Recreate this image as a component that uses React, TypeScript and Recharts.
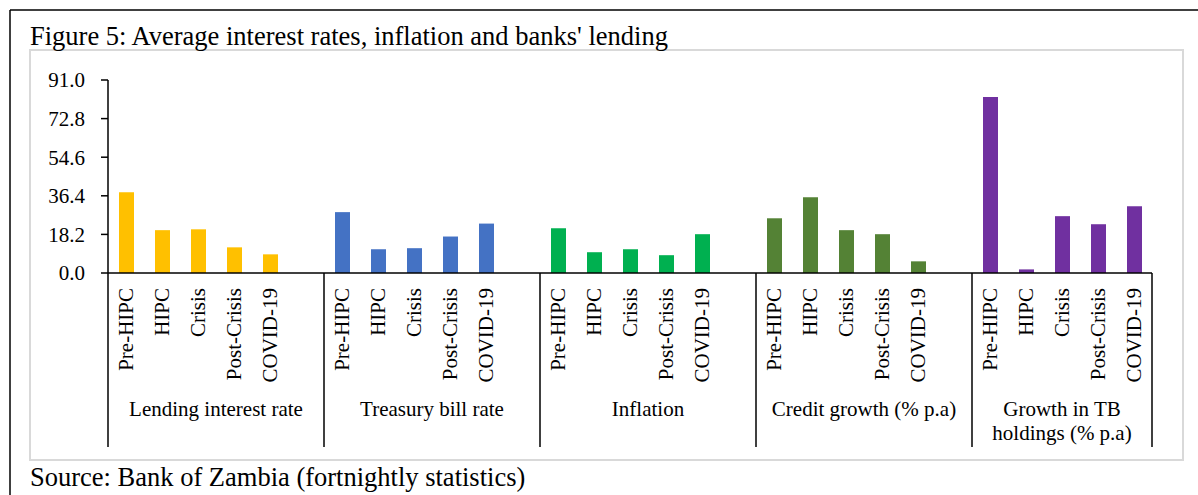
import { BarChart, Bar, XAxis, YAxis, Cell } from "recharts";

const PERIODS = ["Pre-HIPC", "HIPC", "Crisis", "Post-Crisis", "COVID-19"];
const GROUPS = [
  "Lending interest rate",
  "Treasury bill rate",
  "Inflation",
  "Credit growth (% p.a)",
  "Growth in TB holdings (% p.a)",
];
const LENDING_RATE = [38.1, 20.2, 20.6, 12.1, 8.8];
const TB_RATE = [28.7, 11.2, 11.7, 17.2, 23.3];
const INFLATION = [21.1, 9.8, 11.2, 8.4, 18.3];
const CREDIT_GROWTH = [25.8, 35.7, 20.2, 18.3, 5.5];
const TB_HOLDINGS = [83.0, 1.7, 26.8, 23.0, 31.5];
const Y_TICKS = [0, 18.2, 36.4, 54.6, 72.8, 91.0];

const SERIES = [LENDING_RATE, TB_RATE, INFLATION, CREDIT_GROWTH, TB_HOLDINGS];
const GROUP_COLORS = ["#FFC000", "#4472C4", "#00B050", "#548235", "#7030A0"];

const FONT = "'Liberation Serif', 'Times New Roman', serif";

interface Row {
  key: string;
  period: string;
  group: number;
  pos: number;
  value: number | null;
}

// each group gets an empty slot after it, except the last one (as in Excel)
const rows: Row[] = [];
SERIES.forEach((vals, g) => {
  PERIODS.forEach((p, i) => {
    rows.push({ key: `${g}-${p}`, period: p, group: g, pos: i, value: vals[i] });
  });
  if (g < SERIES.length - 1) {
    rows.push({ key: `${g}-gap`, period: "", group: g, pos: PERIODS.length, value: null });
  }
});
const byKey = new Map(rows.map((r) => [r.key, r]));

const W = 1198;
const H = 495;
const MARGIN = { top: 80, right: 46, bottom: 42, left: 30 };
const Y_AXIS_W = 78;
const X_AXIS_H = 180;
const PLOT_W = W - MARGIN.left - MARGIN.right - Y_AXIS_W;
const SLOT = PLOT_W / rows.length;

function slotsInGroup(g: number) {
  return rows.filter((r) => r.group === g).length;
}

let ctx: CanvasRenderingContext2D | null = null;
function wrap(text: string, maxW: number, font: string) {
  if (!ctx) ctx = document.createElement("canvas").getContext("2d");
  if (!ctx) return [text];
  ctx.font = font;
  const lines: string[] = [];
  let cur = "";
  for (const word of text.split(" ")) {
    const next = cur ? cur + " " + word : word;
    if (cur && ctx.measureText(next).width > maxW) {
      lines.push(cur);
      cur = word;
    } else {
      cur = next;
    }
  }
  if (cur) lines.push(cur);
  return lines;
}

function CategoryTick(props: any) {
  const { x, y, payload } = props;
  const row = byKey.get(payload.value);
  if (!row) return null;
  const isLast = row.key === rows[rows.length - 1].key;
  const span = slotsInGroup(row.group);
  const left = x - SLOT / 2;
  const lines = row.pos === 0 ? wrap(GROUPS[row.group], span * SLOT - 16, "21px 'Liberation Serif'") : [];
  return (
    <g>
      {row.period && (
        <text
          transform={`translate(${x},${y + 15}) rotate(-90)`}
          textAnchor="end"
          dominantBaseline="central"
          fontSize={21}
          fontFamily={FONT}
          fill="#000"
        >
          {row.period}
        </text>
      )}
      {row.pos === 0 && (
        <>
          <line x1={left} x2={left} y1={y} y2={y + 174} stroke="#000" strokeWidth={1.5} />
          <text textAnchor="middle" fontSize={21} fontFamily={FONT} fill="#000">
            {lines.map((ln, i) => (
              <tspan key={i} x={left + (span * SLOT) / 2} y={y + 143 + i * 24}>
                {ln}
              </tspan>
            ))}
          </text>
        </>
      )}
      {isLast && (
        <line x1={x + SLOT / 2} x2={x + SLOT / 2} y1={y} y2={y + 174} stroke="#000" strokeWidth={1.5} />
      )}
    </g>
  );
}

export default function App() {
  return (
    <div style={{ position: "absolute", left: 0, top: 0, width: W, height: H, background: "#fff" }}>
      <svg width={W} height={H} style={{ position: "absolute", left: 0, top: 0 }}>
        <line x1={10} x2={W} y1={10} y2={10} stroke="#000" strokeWidth={1.5} />
        <line x1={10} x2={10} y1={10} y2={H} stroke="#000" strokeWidth={1.5} />
        <rect x={30} y={50} width={1153} height={410} fill="none" stroke="#d9d9d9" strokeWidth={2} />
        <text x={30} y={45} fontSize={26.5} fontFamily={FONT} fill="#000">
          Figure 5: Average interest rates, inflation and banks' lending
        </text>
        <text x={30} y={486} fontSize={26.5} fontFamily={FONT} fill="#000">
          Source: Bank of Zambia (fortnightly statistics)
        </text>
      </svg>
      <div style={{ position: "absolute", left: 0, top: 0 }}>
        <BarChart width={W} height={H} data={rows} margin={MARGIN}>
          <XAxis
            dataKey="key"
            interval={0}
            height={X_AXIS_H}
            tickLine={false}
            tickSize={0}
            tickMargin={0}
            axisLine={{ stroke: "#000", strokeWidth: 1.5 }}
            tick={<CategoryTick />}
          />
          <YAxis
            width={Y_AXIS_W}
            domain={[0, 91]}
            ticks={Y_TICKS}
            interval={0}
            tickFormatter={(v: number) => v.toFixed(1)}
            axisLine={{ stroke: "#000", strokeWidth: 1.5 }}
            tickLine={{ stroke: "#000", strokeWidth: 1.5 }}
            tickSize={7}
            tickMargin={16}
            tick={{ fill: "#000", fontSize: 21, fontFamily: FONT }}
          />
          <Bar dataKey="value" barSize={15} isAnimationActive={false}>
            {rows.map((r) => (
              <Cell key={r.key} fill={GROUP_COLORS[r.group]} />
            ))}
          </Bar>
        </BarChart>
      </div>
    </div>
  );
}
